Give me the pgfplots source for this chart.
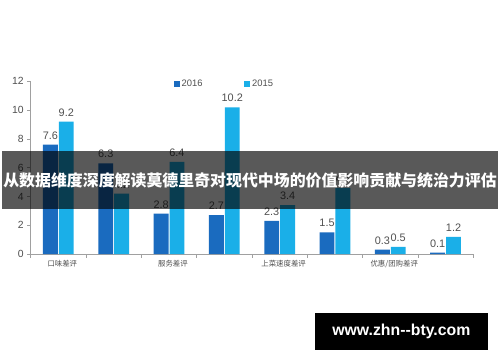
\documentclass[border=0pt]{standalone}
\usepackage{pgfplots}
\pgfplotsset{compat=1.18}
\usepackage{fontspec}
\setmainfont{Liberation Sans}
\newfontfamily\cjk{Noto Sans CJK SC}

\definecolor{cA}{HTML}{1A6BBF}   % 2016
\definecolor{cB}{HTML}{1AAFE8}   % 2015
\definecolor{axgray}{HTML}{A0A0A0}
\definecolor{txtgray}{HTML}{505050}

\pgfplotsset{/pgf/number format/assume math mode=true}

\begin{document}
\begin{tikzpicture}[x=1bp,y=1bp]
\fill[white] (0,0) rectangle (500,362);
\begin{axis}[
  at={(29bp,106bp)}, anchor=south west,
  scale only axis, width=446bp, height=174bp,
  xmin=-0.5, xmax=7.5, ymin=0, ymax=12,
  axis x line*=bottom, axis y line*=left,
  axis line style={axgray, line width=0.6bp},
  ytick={0,2,...,12},
  xtick={0,2,4,6},
  xticklabels={口味差评,服务差评,上菜速度差评,优惠/团购差评},
  x tick label style={font=\cjk\fontsize{7.5}{8}\selectfont, text=txtgray, yshift=1bp, xshift=4bp},
  y tick label style={font=\fontsize{10.5}{11}\selectfont, text=txtgray},
  major x tick style={draw=none},
  minor xtick={-0.5,0.5,...,7.5},
  minor tick length=4bp, major tick length=3.5bp,
  tick align=outside,
  tick style={axgray, line width=0.6bp},
  ybar, bar width=15bp,
  nodes near coords,
  every node near coord/.append style={font=\fontsize{11}{11}\selectfont, text=txtgray, yshift=2bp},
  clip=false,
  legend columns=2,
  legend style={draw=none, fill=none, at={(0.316,0.985)}, anchor=west,
    font=\fontsize{9.5}{10}\selectfont, text=txtgray,
    /tikz/every even column/.append style={column sep=40bp}},
  legend image code/.code={\fill[#1,draw=none] (0bp,-3bp) rectangle (6bp,3bp);},
]
\addplot[fill=cA, draw=none, bar shift=-8bp] coordinates
  {(0,7.6) (1,6.3) (2,2.8) (3,2.7) (4,2.3) (5,1.5) (6,0.3) (7,0.1)};
\addplot[fill=cB, draw=none, bar shift=8bp] coordinates
  {(0,9.2) (1,4.2) (2,6.4) (3,10.2) (4,3.4) (5,4.6) (6,0.5) (7,1.2)};
\legend{2016,2015}
\end{axis}
% title banner across the chart
\fill[black, opacity=0.65] (0,151) rectangle (500,210);
\node[text=white, font=\cjk\bfseries\fontsize{16.1}{17}\selectfont] at (250,180)
  {从数据维度深度解读莫德里奇对现代中场的价值影响贡献与统治力评估};
% site mark
\fill[black] (315,9) rectangle (490,47);
\node[text=white, font=\bfseries\fontsize{16}{16}\selectfont] at (402.5,28) {www.zhn-{}-bty.com};
\end{tikzpicture}
\end{document}
